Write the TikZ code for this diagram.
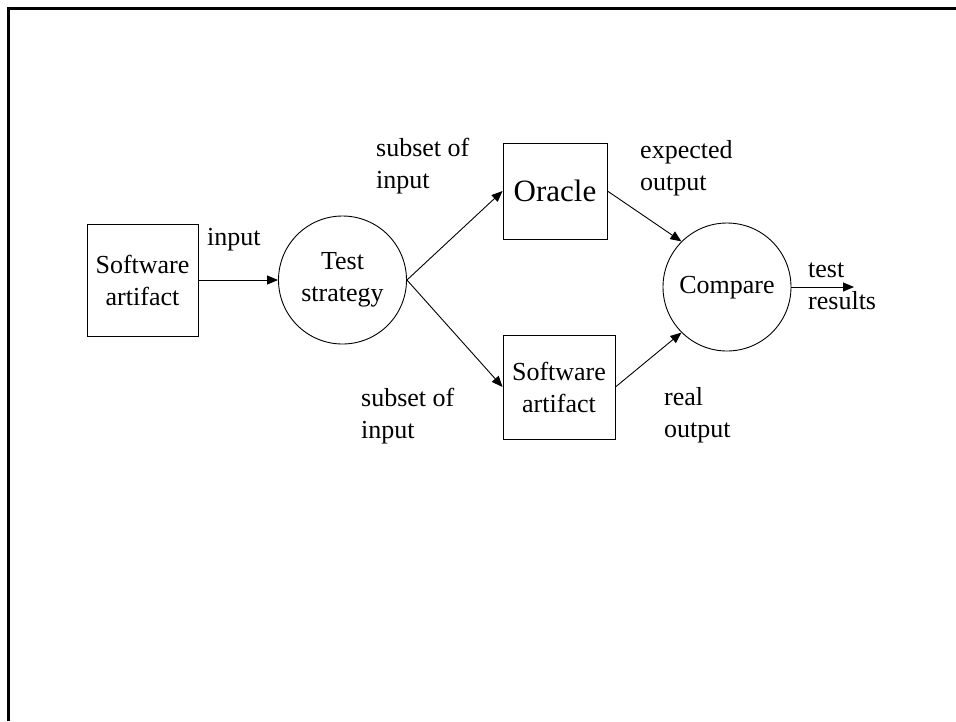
\documentclass[tikz,border=0pt]{standalone}
\usepackage{fontspec}
\setmainfont{Liberation Serif}
\usetikzlibrary{arrows.meta}

\tikzset{
	box/.style={draw, rectangle, line width=0.9pt, inner sep=0pt, align=center},
	blob/.style={draw, circle, line width=0.9pt, inner sep=0pt, minimum size=128pt, align=center},
	lbl/.style={anchor=west, inner sep=0pt, align=left},
	flow/.style={line width=0.9pt, -{Triangle[length=11pt, width=9pt]}}
}

\begin{document}
\begin{tikzpicture}[x=1pt, y=-1pt, font=\fontsize{26}{32}\selectfont]
			%%%%% START %%%%%
			\useasboundingbox (0, 0) rectangle (956, 721);
			
			% slide frame
			\draw[line width=3pt] (8, 721) -- (8, 8) -- (956, 8);
			
			\node[box, minimum width=111pt, minimum height=112pt] (art) at (142.5, 280) {Software\\artifact};
			\node[blob] (strat) at (342.5, 280) {Test\\strategy};
			\node[box, minimum width=104pt, minimum height=96pt, font=\fontsize{31}{36}\selectfont] (oracle) at (555, 191) {Oracle};
			\node[box, minimum width=112pt, minimum height=104pt] (sut) at (559, 387) {Software\\artifact};
			\node[blob] (cmp) at (727, 287) {Compare\strut};
			\coordinate (res) at (854, 287);
			
			\draw[flow] (art.east) -- (strat.west);
			\draw[flow] (strat.east) -- (oracle.west);
			\draw[flow] (strat.east) -- (sut.west);
			\draw[flow] (oracle.east) -- (cmp.north west);
			\draw[flow] (sut.east) -- (cmp.south west);
			\draw[flow] (cmp.east) -- (res);
			
			\node[lbl] (l-in) at (207, 240) {input};
			\node[lbl] (l-sub1) at (376, 166) {subset of\\input};
			\node[lbl] (l-exp) at (640, 168) {expected\\output};
			\node[lbl] (l-sub2) at (361, 416) {subset of\\input};
			\node[lbl] (l-real) at (664, 415) {real\\output};
			\node[lbl] (l-res) at (808, 286) {test\\results};
			
			%%%%% END %%%%%
\end{tikzpicture}
\end{document}
